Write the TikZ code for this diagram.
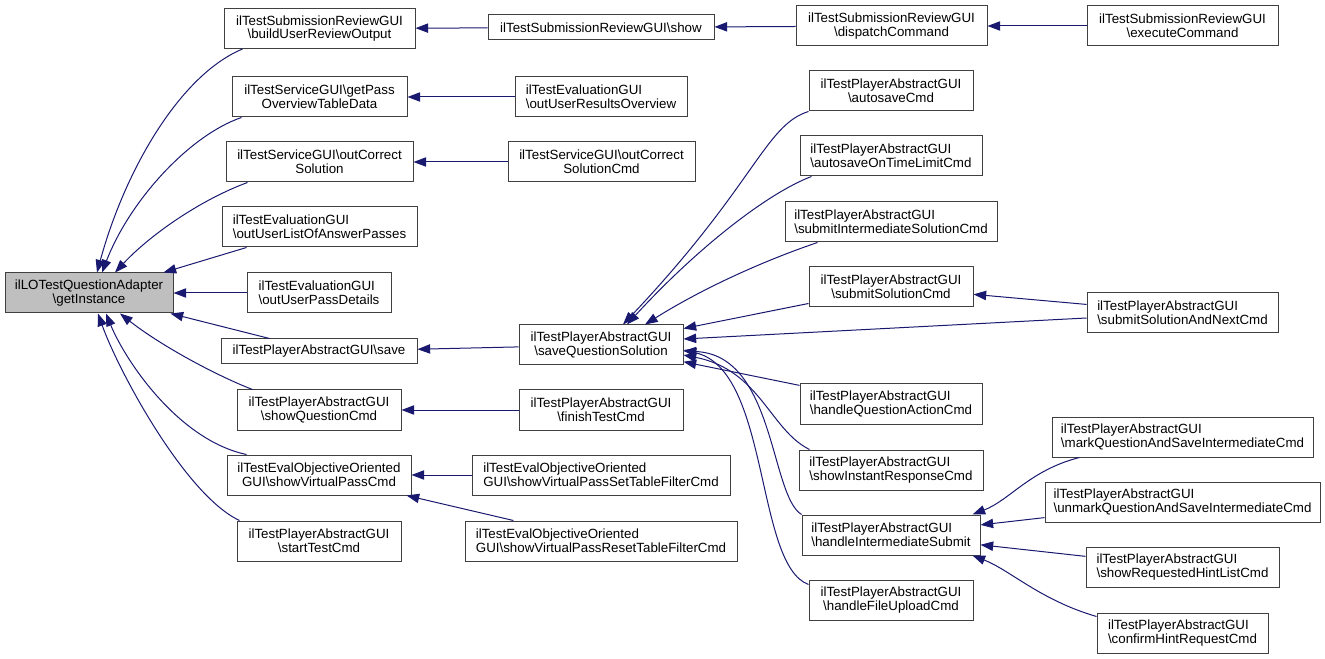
\documentclass[tikz,border=0pt]{standalone}
\usepackage{fontspec}
\setmainfont{Liberation Sans}
\usetikzlibrary{arrows.meta,calc}
\definecolor{edgeblue}{HTML}{191970}
\begin{document}
\begin{tikzpicture}[x=0.75pt,y=-0.75pt,
	fn/.style={draw=black!75,line width=0.75pt,minimum height=30pt,inner sep=2pt,align=center,font=\fontsize{10}{10.3}\selectfont},
	wd/.style={minimum width=0.75pt*#1},
	oneline/.style={minimum height=18.75pt},
	call/.style={edgeblue,line width=0.75pt,-{Triangle[length=9.5pt,width=7pt]}}]
			\useasboundingbox (0,0) rectangle (1325,659);
			\node[fn,wd=168,fill=black!25] (root) at (89,293) {ilLOTestQuestionAdapter\\\textbackslash getInstance};
			\node[fn,wd=191] (bur) at (319.5,28.5) {ilTestSubmissionReviewGUI\\\textbackslash buildUserReviewOutput};
			\node[fn,wd=175] (getpass) at (319.5,97) {ilTestServiceGUI\textbackslash getPass\\OverviewTableData};
			\node[fn,wd=187] (outcorr) at (319.5,162) {ilTestServiceGUI\textbackslash outCorrect\\Solution};
			\node[fn,wd=195,align=left] (listpass) at (319.5,227) {ilTestEvaluationGUI\\\textbackslash outUserListOfAnswerPasses};
			\node[fn,wd=144,align=left] (passdet) at (319,293) {ilTestEvaluationGUI\\\textbackslash outUserPassDetails};
			\node[fn,oneline,wd=196] (save) at (319,351.5) {ilTestPlayerAbstractGUI\textbackslash save};
			\node[fn,wd=164] (showq) at (319,410) {ilTestPlayerAbstractGUI\\\textbackslash showQuestionCmd};
			\node[fn,wd=184] (virt) at (319,475) {ilTestEvalObjectiveOriented\\GUI\textbackslash showVirtualPassCmd};
			\node[fn,wd=164] (start) at (319,541) {ilTestPlayerAbstractGUI\\\textbackslash startTestCmd};
			\node[fn,oneline,wd=226] (show) at (601,27.5) {ilTestSubmissionReviewGUI\textbackslash show};
			\node[fn,wd=172,align=left] (resov) at (601,97) {ilTestEvaluationGUI\\\textbackslash outUserResultsOverview};
			\node[fn,wd=187] (corrcmd) at (601.5,162) {ilTestServiceGUI\textbackslash outCorrect\\SolutionCmd};
			\node[fn,wd=164] (sqs) at (601,345) {ilTestPlayerAbstractGUI\\\textbackslash saveQuestionSolution};
			\node[fn,wd=164] (finish) at (601,410) {ilTestPlayerAbstractGUI\\\textbackslash finishTestCmd};
			\node[fn,wd=258,align=left] (setfilter) at (601,475) {ilTestEvalObjectiveOriented\\GUI\textbackslash showVirtualPassSetTableFilterCmd};
			\node[fn,wd=272,align=left] (resetfilter) at (601,541) {ilTestEvalObjectiveOriented\\GUI\textbackslash showVirtualPassResetTableFilterCmd};
			\node[fn,wd=191] (dispatch) at (891.5,26) {ilTestSubmissionReviewGUI\\\textbackslash dispatchCommand};
			\node[fn,wd=164] (autosave) at (891,91) {ilTestPlayerAbstractGUI\\\textbackslash autosaveCmd};
			\node[fn,wd=182,align=left] (autotl) at (891,156) {ilTestPlayerAbstractGUI\\\textbackslash autosaveOnTimeLimitCmd};
			\node[fn,wd=212,align=left] (subint) at (891,222) {ilTestPlayerAbstractGUI\\\textbackslash submitIntermediateSolutionCmd};
			\node[fn,wd=164] (subsol) at (891,287) {ilTestPlayerAbstractGUI\\\textbackslash submitSolutionCmd};
			\node[fn,wd=182,align=left] (handleqa) at (891,404) {ilTestPlayerAbstractGUI\\\textbackslash handleQuestionActionCmd};
			\node[fn,wd=184,align=left] (instant) at (891,470) {ilTestPlayerAbstractGUI\\\textbackslash showInstantResponseCmd};
			\node[fn,wd=178,align=left] (his) at (891,535) {ilTestPlayerAbstractGUI\\\textbackslash handleIntermediateSubmit};
			\node[fn,wd=164] (upload) at (891,600) {ilTestPlayerAbstractGUI\\\textbackslash handleFileUploadCmd};
			\node[fn,wd=191] (execute) at (1182.5,26) {ilTestSubmissionReviewGUI\\\textbackslash executeCommand};
			\node[fn,wd=191,align=left] (subnext) at (1182.5,313) {ilTestPlayerAbstractGUI\\\textbackslash submitSolutionAndNextCmd};
			\node[fn,wd=261,align=left] (mark) at (1182.5,437) {ilTestPlayerAbstractGUI\\\textbackslash markQuestionAndSaveIntermediateCmd};
			\node[fn,wd=275,align=left] (unmark) at (1182.5,502) {ilTestPlayerAbstractGUI\\\textbackslash unmarkQuestionAndSaveIntermediateCmd};
			\node[fn,wd=193,align=left] (hintlist) at (1182.5,567) {ilTestPlayerAbstractGUI\\\textbackslash showRequestedHintListCmd};
			\node[fn,wd=171,align=left] (confirm) at (1182.5,633) {ilTestPlayerAbstractGUI\\\textbackslash confirmHintRequestCmd};
			\draw[call] ($(bur.south west)+(19,0)$) .. controls (180,75) and (125,170) .. ($(root.north)+(8,0)$);
			\draw[call] ($(getpass.south west)+(10,0)$) .. controls (190,135) and (130,200) .. ($(root.north)+(13,0)$);
			\draw[call] ($(outcorr.south west)+(22,0)$) .. controls (200,200) and (150,235) .. ($(root.north)+(26,0)$);
			\draw[call] ($(listpass.south west)+(25,0)$) -- ($(root.north east)+(-10,0)$);
			\draw[call] (passdet) -- (root);
			\draw[call] ($(save.north west)+(49,0)$) -- ($(root.south east)+(-3,0)$);
			\draw[call] ($(showq.north west)+(16,0)$) .. controls (215,375) and (160,345) .. ($(root.south)+(31,0)$);
			\draw[call] ($(virt.north west)+(20,0)$) .. controls (178,440) and (125,360) .. ($(root.south)+(17,0)$);
			\draw[call] ($(start.north west)+(3,0)$) .. controls (185,495) and (118,370) .. ($(root.south)+(9,0)$);
			\draw[call] (show) -- (bur);
			\draw[call] (resov) -- (getpass);
			\draw[call] (corrcmd) -- (outcorr);
			\draw[call] (sqs) -- (save);
			\draw[call] (finish) -- (showq);
			\draw[call] (setfilter) -- (virt);
			\draw[call] (resetfilter) -- (virt);
			\draw[call] (dispatch) -- (show);
			\draw[call] (execute) -- (dispatch);
			\draw[call] (autosave.south west) .. controls (765,125) and (755,185) .. ($(sqs.north)+(22,0)$);
			\draw[call] ($(autotl.south west)+(12,0)$) .. controls (770,192) and (700,245) .. ($(sqs.north)+(26,0)$);
			\draw[call] ($(subint.south west)+(33,0)$) .. controls (760,262) and (700,290) .. ($(sqs.north)+(44,0)$);
			\draw[call] (subsol) -- (sqs);
			\draw[call] ($(subnext.west)+(0,5)$) -- ($(sqs.east)+(0,-6)$);
			\draw[call] (subnext) -- (subsol);
			\draw[call] (handleqa) -- (sqs);
			\draw[call] ($(instant.north west)+(11,0)$) .. controls (770,430) and (760,370) .. ($(sqs.east)+(0,10)$);
			\draw[call] (his.north west) .. controls (770,495) and (775,355) .. ($(sqs.east)+(0,6)$);
			\draw[call] ($(upload.north west)+(0,5)$) .. controls (755,565) and (770,370) .. ($(sqs.east)+(0,5)$);
			\draw[call] ($(mark.south west)+(28,0)$) .. controls (1030,470) and (1010,500) .. ($(his.north east)+(-8,0)$);
			\draw[call] (unmark) -- (his);
			\draw[call] (hintlist) -- (his);
			\draw[call] ($(confirm.north west)+(0,4)$) .. controls (1040,600) and (1010,570) .. ($(his.south east)+(-8,0)$);
		\end{tikzpicture}
\end{document}
